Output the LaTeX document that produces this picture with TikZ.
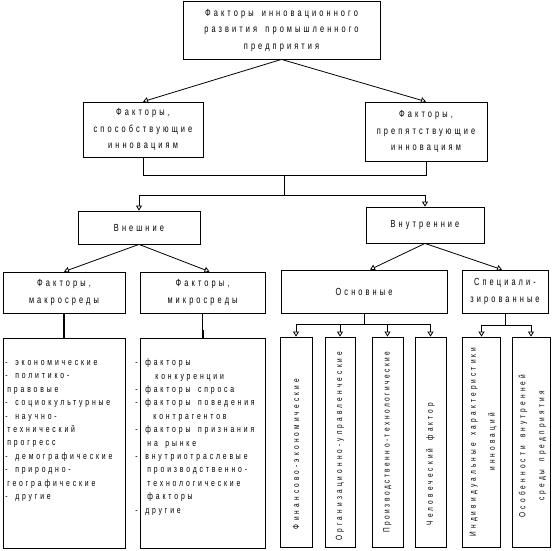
\documentclass[tikz,border=0pt]{standalone}
\usepackage{fontspec}
\setmainfont{Liberation Sans}[FakeStretch=0.72,LetterSpace=30,WordSpace=1.6]
\usepackage{tikz}
\usetikzlibrary{arrows.meta,calc}

\begin{document}
\begin{tikzpicture}[x=1pt, y=-1pt, line width=0.8pt,
  box/.style={draw, align=center, inner sep=0pt, font=\fontsize{10.3}{16.5}\selectfont},
  vbox/.style={draw, inner sep=0pt, minimum height=210, font=\fontsize{9}{19}\selectfont\addfontfeature{LetterSpace=35}},
  listtext/.style={anchor=north west, align=left, inner sep=0pt, font=\fontsize{9.5}{13.4}\selectfont},
  arr/.style={-{Triangle[open,length=5pt,width=6pt]}}]

\useasboundingbox (0,0) rectangle (553,550);

% Main box
\node[box, minimum width=197, minimum height=58] (top) at (281.5,30)
  {Факторы инновационного\\развития промышленного\\предприятия};

% Helping / hindering factors
\node[box, minimum width=120, minimum height=55] (help) at (143,129.5) {Факторы,\\способствующие\\инновациям};
\node[box, minimum width=122, minimum height=59] (hind) at (426,131.5) {Факторы,\\препятствующие\\инновациям};

% External / internal
\node[box, minimum width=122, minimum height=33] (ext) at (139,227.5) {Внешние};
\node[box, minimum width=118, minimum height=36] (int) at (425,225) {Внутренние};

% Fourth row
\node[box, minimum width=122, minimum height=41] (macro) at (64,292.5) {Факторы,\\макросреды};
\node[box, minimum width=125, minimum height=41] (micro) at (202.5,292.5) {Факторы,\\микросреды};
\node[box, minimum width=166, minimum height=43] (base) at (364,291.5) {Основные};
\node[box, minimum width=86, minimum height=43] (spec) at (505,291.5) {Специали-\\зированные};

% Lists
\node[box, minimum width=122, minimum height=210] (macrolist) at (64,443) {};
\node[listtext] (macrotext) at (5,360) {- экономические\\- политико-\\\hspace*{2pt}правовые\\- социокультурные\\- научно-\\\hspace*{2pt}технический\\\hspace*{2pt}прогресс\\- демографические\\- природно-\\\hspace*{2pt}географические\\- другие};
\node[box, minimum width=125, minimum height=210] (microlist) at (202.5,443) {};
\node[listtext] (microtext) at (135,358.5) {- факторы\\\hspace*{20pt}конкуренции\\- факторы спроса\\- факторы поведения\\\hspace*{18pt}контрагентов\\- факторы признания\\\hspace*{12pt}на рынке\\- внутриотраслевые\\\hspace*{12pt}производственно-\\\hspace*{12pt}технологические\\\hspace*{12pt}факторы\\- другие};

% Vertical boxes
\node[vbox, minimum width=32] (fin) at (296,442) {\rotatebox{90}{Финансово-экономические\hspace*{24pt}}};
\node[vbox, minimum width=30] (org) at (340,442) {\rotatebox{90}{Организационно-управленческие\hspace*{8pt}}};
\node[vbox, minimum width=31] (prod) at (387.5,442) {\rotatebox{90}{\addfontfeature{LetterSpace=28}Производственно-технологические}};
\node[vbox, minimum width=31] (hum) at (430.5,442) {\rotatebox{90}{Человеческий фактор\hspace*{44pt}}};
\node[vbox, minimum width=37] (ind) at (481.5,442) {\rotatebox{90}{\begin{tabular}{@{}c@{}}Индивидуальные характеристики\\инноваций\end{tabular}}};
\node[vbox, minimum width=38] (env) at (531,442) {\rotatebox{90}{\begin{tabular}{@{}c@{}}Особенности внутренней\\среды предприятия\end{tabular}\hspace*{8pt}}};

% Arrows from the main box
\draw[arr] (top.south) -- (help.north);
\draw[arr] (top.south) -- (hind.north);

% Joining line
\draw (help.south) -- ++(0,18) coordinate (joinL) -| (hind.south);
\coordinate (join) at ($(joinL)!0.5!(joinL -| hind.south)$);
\draw (join) -- ++(0,20) coordinate (split);
\draw[arr] (split) -| (ext.north);
\draw[arr] (split) -| (int.north);

% From external and internal
\draw[arr] (ext.south) -- (macro.north);
\draw[arr] (ext.south) -- ([xshift=7]micro.north);
\draw[arr] (int.south) -- ([xshift=6]base.north);
\draw[arr] (int.south) -- ([xshift=-3]spec.north);

% To the lists
\draw[line width=2.5pt] (macro.south) -- (macrolist.north);
\draw (micro.south) -- ++(0,17) coordinate (microbend);
\draw[line width=2pt] (microbend) -- (microlist.north);

% Forks
\draw (base.south) -- ++(0,11) coordinate (baseFork);
\foreach \n in {fin,org,prod,hum}
  \draw[arr] (baseFork) -| (\n.north);
\draw (spec.south) -- ++(0,12) coordinate (specFork);
\foreach \n in {ind,env}
  \draw[arr] (specFork) -| (\n.north);

\end{tikzpicture}
\end{document}
